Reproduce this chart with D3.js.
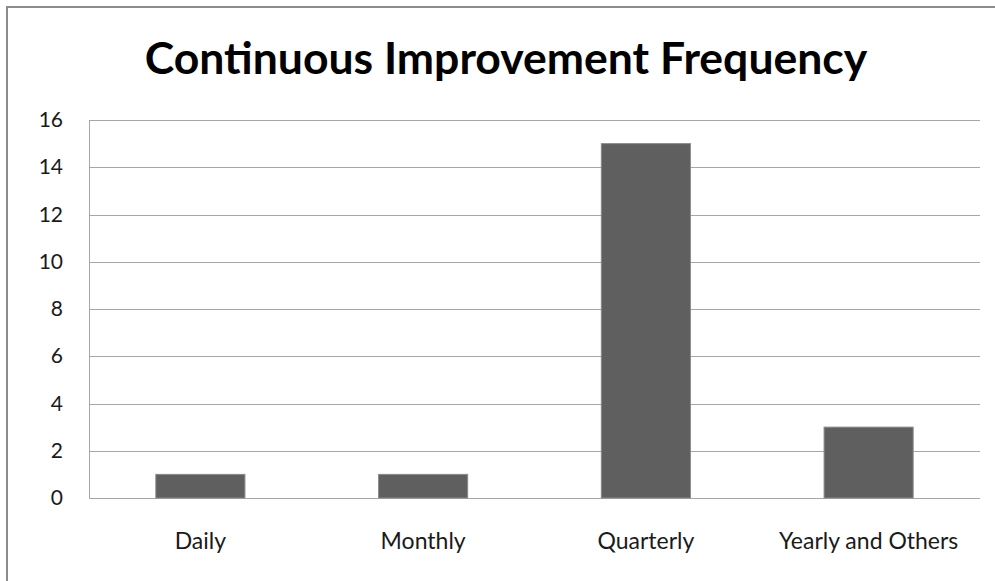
<!DOCTYPE html>
<html>
<head>
<meta charset="utf-8">
<script src="https://cdn.jsdelivr.net/npm/d3@7"></script>
<style>
  body { margin: 0; background: #fff; overflow: hidden; }
  svg { display: block; }
</style>
</head>
<body>
<div id="chart"></div>
<script>
  const categories = ['Daily', 'Monthly', 'Quarterly', 'Yearly and Others'];
  const values = [1, 1, 15, 3];
  const yTicks = [0, 2, 4, 6, 8, 10, 12, 14, 16];
  const title = 'Continuous Improvement Frequency';

  const W = 995, H = 581;
  const plot = {left: 89, right: 980, top: 120, bottom: 498};
  const font = 'Lato, Open Sans, sans-serif';

  const svg = d3.select('#chart').append('svg')
    .attr('width', W).attr('height', H);

  // outer chart border (runs off the right/bottom of the picture)
  svg.append('rect')
    .attr('x', 7).attr('y', 7)
    .attr('width', W + 20).attr('height', H + 20)
    .attr('fill', '#fff')
    .attr('stroke', '#8c8c8c').attr('stroke-width', 2);

  let x = d3.scaleBand()
    .domain(categories)
    .range([plot.left, plot.right])
    .paddingInner(0.6).paddingOuter(0.3);

  let y = d3.scaleLinear()
    .domain([0, 16])
    .range([plot.bottom, plot.top]);

  // gridlines
  svg.append('g')
    .selectAll('line')
    .data(yTicks)
    .join('line')
    .attr('x1', plot.left).attr('x2', plot.right)
    .attr('y1', d => Math.round(y(d)) + 0.5)
    .attr('y2', d => Math.round(y(d)) + 0.5)
    .attr('stroke', '#a6a6a6').attr('stroke-width', 1);

  // left edge of plot
  svg.append('line')
    .attr('x1', plot.left + 0.5).attr('x2', plot.left + 0.5)
    .attr('y1', Math.round(y(16))).attr('y2', Math.round(y(0)) + 1)
    .attr('stroke', '#a6a6a6');

  // y tick labels
  let yAxis = svg.append('g')
    .attr('transform', `translate(${plot.left},0)`)
    .call(d3.axisLeft(y).tickValues(yTicks).tickSize(0).tickPadding(26));
  yAxis.select('.domain').remove();
  yAxis.selectAll('text')
    .attr('font-family', font).attr('font-size', 21).attr('fill', '#1a1a1a');

  // bars
  svg.append('g')
    .selectAll('rect')
    .data(values)
    .join('rect')
    .attr('x', (d, i) => x(categories[i]))
    .attr('y', d => y(d))
    .attr('width', x.bandwidth())
    .attr('height', d => y(0) - y(d))
    .attr('fill', '#5f5f5f')
    .attr('stroke', '#8a8a8a').attr('stroke-width', 1);

  // category labels
  let xAxis = svg.append('g')
    .attr('transform', `translate(0,${plot.bottom})`)
    .call(d3.axisBottom(x).tickSize(0).tickPadding(35));
  xAxis.select('.domain').remove();
  xAxis.selectAll('text')
    .attr('font-family', font).attr('font-size', 23).attr('fill', '#1a1a1a');

  // title, sized to the width of the original
  let t = svg.append('text')
    .attr('x', 506).attr('y', 74)
    .attr('text-anchor', 'middle')
    .attr('font-family', font).attr('font-weight', 'bold')
    .attr('font-size', 40).attr('fill', '#000')
    .text(title);
  let w = t.node().getComputedTextLength();
  t.attr('font-size', 40 * 723 / w);
</script>
</body>
</html>
